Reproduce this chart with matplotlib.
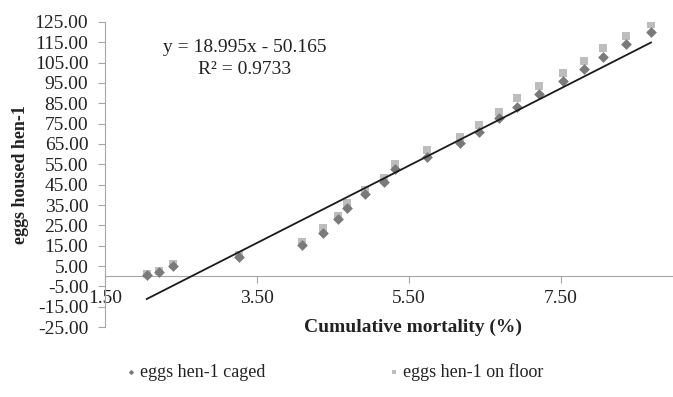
import numpy as np
import matplotlib.pyplot as plt

plt.rcParams['font.family'] = ['Liberation Serif', 'DejaVu Serif']

# cumulative mortality (%) and eggs per housed hen
mortality = [2.05, 2.21, 2.39, 3.26, 4.09, 4.37, 4.57, 4.69, 4.92, 5.17, 5.32, 5.74,
             6.18, 6.42, 6.69, 6.93, 7.22, 7.53, 7.81, 8.06, 8.36, 8.69]
eggs_caged = [0.5, 2.0, 5.0, 9.3, 15.5, 21.3, 27.9, 33.6, 40.2, 46.2, 52.6, 58.7,
              65.3, 71.0, 77.6, 83.3, 89.5, 95.9, 101.7, 107.9, 114.1, 119.9]
eggs_floor = [1.0, 2.3, 5.8, 10.5, 16.8, 23.5, 29.7, 36.1, 42.6, 48.5, 55.4, 62.0,
              68.5, 74.3, 80.8, 87.4, 93.5, 100.0, 105.8, 112.3, 118.2, 124.0]
slope, intercept, r2 = 18.995, -50.165, 0.9733

axis_grey = '#a6a6a6'
txt = '#222222'

fig = plt.figure(figsize=(6.73, 3.97), dpi=100)
ax = fig.add_axes([0.156, 0.1763, 0.844, 0.7683])

ax.scatter(mortality, eggs_caged, marker='D', s=30, color='#7a7a7a', zorder=3,
           linewidths=0, label='eggs hen-1 caged')
ax.scatter(mortality, eggs_floor, marker='s', s=30, color='#bdbdbd', zorder=2,
           linewidths=0, label='eggs hen-1 on floor')

xs = np.array([min(mortality), max(mortality)])
ax.plot(xs, slope * xs + intercept, color='#1a1a1a', lw=1.3, zorder=4)

ax.set_xlim(1.5, 8.98)
ax.set_ylim(-25, 125)
ax.set_xticks([1.5, 3.5, 5.5, 7.5])
ax.set_yticks(np.arange(-25, 126, 10))
ax.xaxis.set_major_formatter(plt.FormatStrFormatter('%.2f'))
ax.yaxis.set_major_formatter(plt.FormatStrFormatter('%.2f'))

for s in ['top', 'right']:
    ax.spines[s].set_visible(False)
ax.spines['left'].set_color(axis_grey)
ax.spines['bottom'].set_color(axis_grey)
ax.spines['bottom'].set_position(('data', 0))
ax.tick_params(axis='y', direction='out', length=5, color=axis_grey, pad=7,
               labelsize=14, labelcolor=txt)
ax.tick_params(axis='x', direction='out', length=5, color=axis_grey, pad=5,
               labelsize=14, labelcolor=txt)

fig.text(413 / 673, 1 - 327 / 397, 'Cumulative mortality (%)', ha='center', va='center',
         fontsize=14, fontweight='bold', color=txt)
fig.text(21 / 673, 1 - 175 / 397, 'eggs housed hen-1', ha='center', va='center',
         rotation=90, fontsize=13, fontweight='bold', color=txt)

fig.text(245 / 673, 1 - 48 / 397, f'y = {slope}x - {abs(intercept)}', ha='center',
         va='center', fontsize=14, color=txt)
fig.text(245 / 673, 1 - 70 / 397, f'R² = {r2}', ha='center', va='center',
         fontsize=14, color=txt)

fig.legend(loc='center left', bbox_to_anchor=(122 / 673, 1 - 372 / 397), ncol=2,
           frameon=False, fontsize=13, handletextpad=0.0, columnspacing=6.6,
           markerscale=0.5, handlelength=1.0, labelcolor=txt, borderaxespad=0,
           borderpad=0)

fig.savefig('out.png', dpi=100)
